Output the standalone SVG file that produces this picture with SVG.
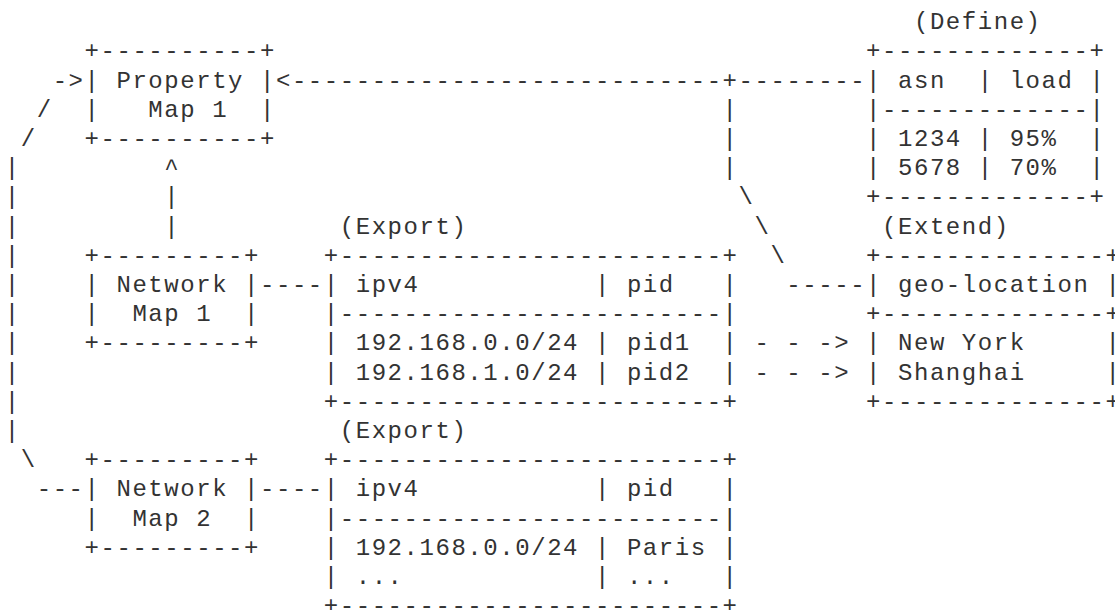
<svg xmlns="http://www.w3.org/2000/svg" width="1115" height="610" viewBox="0 0 1115 610" xml:space="preserve">
  <style>
    /* fixed-pitch character grid: 15.95px per column, 29.2px per row */
    text { font-family: "Liberation Mono", "DejaVu Sans Mono", monospace; font-size: 24px; letter-spacing: 1.55px; fill: #333; white-space: pre; }
  </style>
  <rect width="1115" height="610" fill="#fff"/>

  <!-- Property Map 1 -->
  <g id="property-map-1">
    <text x="84.55" y="58.3">+----------+</text>
    <text x="84.55" y="87.5">| Property |</text>
    <text x="84.55" y="116.7">|   Map 1  |</text>
    <text x="84.55" y="145.9">+----------+</text>
  </g>

  <!-- asn / load table -->
  <g id="define-table">
    <text x="913.95" y="29.1">(Define)</text>
    <text x="866.1" y="58.3">+-------------+</text>
    <text x="866.1" y="87.5">| asn  | load |</text>
    <text x="866.1" y="116.7">|-------------|</text>
    <text x="866.1" y="145.9">| 1234 | 95%  |</text>
    <text x="866.1" y="175.1">| 5678 | 70%  |</text>
    <text x="866.1" y="204.3">+-------------+</text>
  </g>

  <!-- Network Map 1 -->
  <g id="network-map-1">
    <text x="84.55" y="262.7">+---------+</text>
    <text x="84.55" y="291.9">| Network |</text>
    <text x="84.55" y="321.1">|  Map 1  |</text>
    <text x="84.55" y="350.3">+---------+</text>
  </g>

  <!-- exported table of Network Map 1 -->
  <g id="export-table-1">
    <text x="339.75" y="233.5">(Export)</text>
    <text x="323.8" y="262.7">+------------------------+</text>
    <text x="323.8" y="291.9">| ipv4           | pid   |</text>
    <text x="323.8" y="321.1">|------------------------|</text>
    <text x="323.8" y="350.3">| 192.168.0.0/24 | pid1  |</text>
    <text x="323.8" y="379.5">| 192.168.1.0/24 | pid2  |</text>
    <text x="323.8" y="408.7">+------------------------+</text>
  </g>

  <!-- geo-location table -->
  <g id="extend-table">
    <text x="882.05" y="233.5">(Extend)</text>
    <text x="866.1" y="262.7">+--------------+</text>
    <text x="866.1" y="291.9">| geo-location |</text>
    <text x="866.1" y="321.1">+--------------+</text>
    <text x="866.1" y="350.3">| New York     |</text>
    <text x="866.1" y="379.5">| Shanghai     |</text>
    <text x="866.1" y="408.7">+--------------+</text>
  </g>

  <!-- Network Map 2 -->
  <g id="network-map-2">
    <text x="84.55" y="467.1">+---------+</text>
    <text x="84.55" y="496.3">| Network |</text>
    <text x="84.55" y="525.5">|  Map 2  |</text>
    <text x="84.55" y="554.7">+---------+</text>
  </g>

  <!-- exported table of Network Map 2 -->
  <g id="export-table-2">
    <text x="339.75" y="437.9">(Export)</text>
    <text x="323.8" y="467.1">+------------------------+</text>
    <text x="323.8" y="496.3">| ipv4           | pid   |</text>
    <text x="323.8" y="525.5">|------------------------|</text>
    <text x="323.8" y="554.7">| 192.168.0.0/24 | Paris |</text>
    <text x="323.8" y="583.9">| ...            | ...   |</text>
    <text x="323.8" y="613.1">+------------------------+</text>
  </g>

  <!-- connectors -->
  <g id="connectors">
    <!-- Network Map 2 back up to Property Map 1 -->
    <text x="52.65" y="87.5">-&gt;</text>
    <text x="36.7" y="116.7">/</text>
    <text x="20.75" y="145.9">/</text>
    <text><tspan x="4.8" y="175.1">|</tspan><tspan x="4.8" y="204.3">|</tspan><tspan x="4.8" y="233.5">|</tspan><tspan x="4.8" y="262.7">|</tspan><tspan x="4.8" y="291.9">|</tspan><tspan x="4.8" y="321.1">|</tspan><tspan x="4.8" y="350.3">|</tspan><tspan x="4.8" y="379.5">|</tspan><tspan x="4.8" y="408.7">|</tspan><tspan x="4.8" y="437.9">|</tspan></text>
    <text x="20.75" y="467.1">\</text>
    <text x="36.7" y="496.3">---</text>

    <!-- Network Map 1 up to Property Map 1 -->
    <text x="164.3" y="175.1">^</text>
    <text><tspan x="164.3" y="204.3">|</tspan><tspan x="164.3" y="233.5">|</tspan></text>

    <!-- network maps to their exported tables -->
    <text x="260.0" y="291.9">----</text>
    <text x="260.0" y="496.3">----</text>

    <!-- define / extend tables to Property Map 1 -->
    <text x="275.95" y="87.5">&lt;---------------------------+--------</text>
    <text><tspan x="722.55" y="116.7">|</tspan><tspan x="722.55" y="145.9">|</tspan><tspan x="722.55" y="175.1">|</tspan></text>
    <text x="738.5" y="204.3">\</text>
    <text x="754.45" y="233.5">\</text>
    <text x="770.4" y="262.7">\</text>
    <text x="786.35" y="291.9">-----</text>

    <!-- pid mappings into the extend table -->
    <text x="754.45" y="350.3">- - -&gt;</text>
    <text x="754.45" y="379.5">- - -&gt;</text>
  </g>
</svg>
